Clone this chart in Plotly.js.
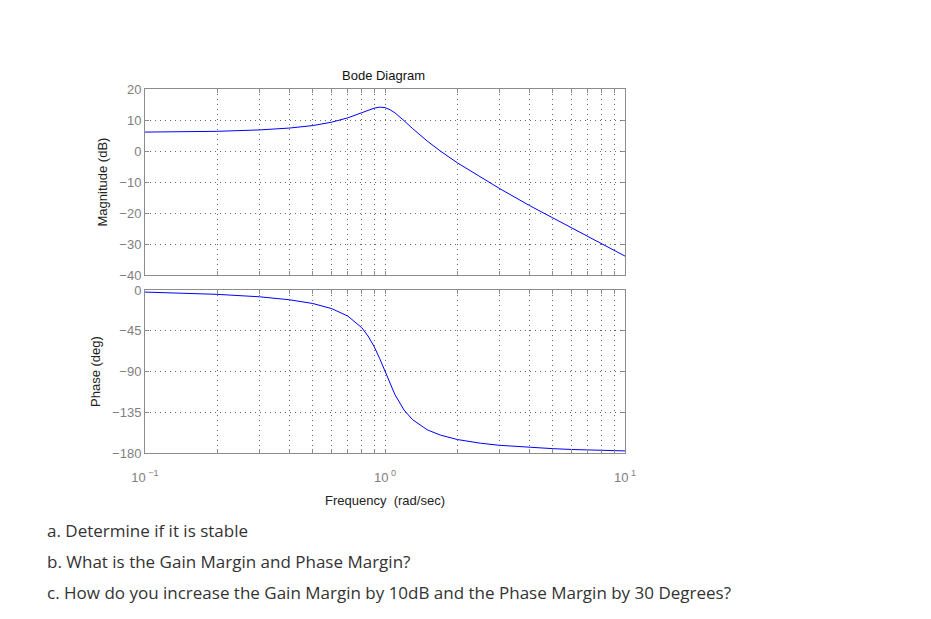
<!DOCTYPE html>
<html>
<head>
<meta charset="utf-8">
<script src="https://cdn.plot.ly/plotly-3.0.1.min.js"></script>
<style>
  html, body { margin: 0; padding: 0; background: #fff; }
  #chart { width: 931px; height: 619px; }
</style>
</head>
<body>
<div id="chart"></div>
<script>
document.addEventListener("DOMContentLoaded", function() {
    // frecuencias (rad/sec) y valores
    const freq = [0.1, 0.15, 0.2, 0.3, 0.4, 0.5, 0.6, 0.7, 0.8, 0.85, 0.9, 0.95, 1.0, 1.05,
                  1.1, 1.2, 1.3, 1.5, 1.7, 2, 2.5, 3, 4, 5, 6, 7, 8, 10];
    const magnitud = [6.1, 6.2, 6.35, 6.8, 7.4, 8.2, 9.3, 10.7, 12.4, 13.2, 13.8, 14.15, 14.0, 13.3,
                      12.3, 9.8, 7.3, 3.2, 0.0, -3.8, -8.5, -12.1, -17.6, -21.6, -24.9, -27.6, -30.0, -33.9];
    const fase = [-2.3, -3.5, -4.8, -7.5, -10.8, -14.9, -20.6, -28.8, -41.6, -50.8, -62.2, -75.6, -90, -103.7,
                  -115.5, -132.5, -143.0, -154.4, -160.2, -165.1, -169.2, -171.5, -173.9, -175.2, -176.1, -176.7, -177.1, -177.7];

    const xTicks = [0.1, 0.2, 0.3, 0.4, 0.5, 0.6, 0.7, 0.8, 0.9, 1, 2, 3, 4, 5, 6, 7, 8, 9, 10];
    const xLabels = ['10<sup> −1</sup>', '', '', '', '', '', '', '', '', '10<sup> 0</sup>',
                     '', '', '', '', '', '', '', '', '10<sup> 1</sup>'];
    const magTicks = [-40, -30, -20, -10, 0, 10, 20];
    const phaseTicks = [-180, -135, -90, -45, 0];

    const preguntas = [
        'a. Determine if it is stable',
        'b. What is the Gain Margin and Phase Margin?',
        'c. How do you increase the Gain Margin by 10dB and the Phase Margin by 30 Degrees?'
    ];

    const data = [
        { x: freq, y: magnitud, type: 'scatter', mode: 'lines',
          line: { color: '#0000ff', width: 1 }, xaxis: 'x', yaxis: 'y', hoverinfo: 'skip' },
        { x: freq, y: fase, type: 'scatter', mode: 'lines',
          line: { color: '#0000ff', width: 1 }, xaxis: 'x2', yaxis: 'y2', hoverinfo: 'skip' }
    ];

    const fuente = 'Liberation Sans, Arial, sans-serif';
    const ejeComun = {
        showline: true, linecolor: '#8c8c8c', linewidth: 1, mirror: 'ticks',
        ticks: 'inside', ticklen: 4, tickcolor: '#8c8c8c',
        showgrid: true, gridcolor: '#666', griddash: '1px,4px', gridwidth: 1,
        zeroline: false,
        tickfont: { family: fuente, size: 13, color: '#808080' }
    };

    const xDom = [145 / 931, 625 / 931];

    const layout = {
        width: 931, height: 619,
        margin: { l: 0, r: 0, t: 0, b: 0 },
        paper_bgcolor: '#fff', plot_bgcolor: '#fff',
        showlegend: false,
        xaxis: Object.assign({}, ejeComun, {
            type: 'log', range: [-1, 1], domain: xDom, anchor: 'y',
            tickvals: xTicks, ticktext: xLabels, showticklabels: false
        }),
        yaxis: Object.assign({}, ejeComun, {
            range: [-40, 20], domain: [1 - 275 / 619, 1 - 89 / 619], anchor: 'x',
            tickvals: magTicks,
            title: { text: 'Magnitude (dB)', standoff: 8,
                     font: { family: fuente, size: 13, color: '#222' } }
        }),
        xaxis2: Object.assign({}, ejeComun, {
            type: 'log', range: [-1, 1], domain: xDom, anchor: 'y2',
            tickvals: xTicks, ticktext: xLabels, ticklabelstandoff: 12,
            title: { text: 'Frequency  (rad/sec)', standoff: 12,
                     font: { family: fuente, size: 13, color: '#222' } }
        }),
        yaxis2: Object.assign({}, ejeComun, {
            range: [-180, 0], domain: [1 - 453 / 619, 1 - 290 / 619], anchor: 'x2',
            tickvals: phaseTicks,
            title: { text: 'Phase (deg)', standoff: 8,
                     font: { family: fuente, size: 13, color: '#222' } }
        }),
        annotations: [
            { text: 'Bode Diagram', xref: 'paper', yref: 'paper', x: 383 / 931, y: 1 - 75 / 619,
              xanchor: 'center', yanchor: 'middle', showarrow: false,
              font: { family: fuente, size: 13, color: '#111' } }
        ]
    };

    // preguntas debajo de la grafica
    const filas = [530, 561, 592];
    preguntas.forEach(function(t, i) {
        layout.annotations.push({
            text: t, xref: 'paper', yref: 'paper', x: 45 / 931, y: 1 - filas[i] / 619,
            xanchor: 'left', yanchor: 'middle', showarrow: false,
            font: { family: 'Open Sans, sans-serif', size: 17, color: '#333' }
        });
    });

    Plotly.newPlot('chart', data, layout, { staticPlot: true });
});
</script>
</body>
</html>
